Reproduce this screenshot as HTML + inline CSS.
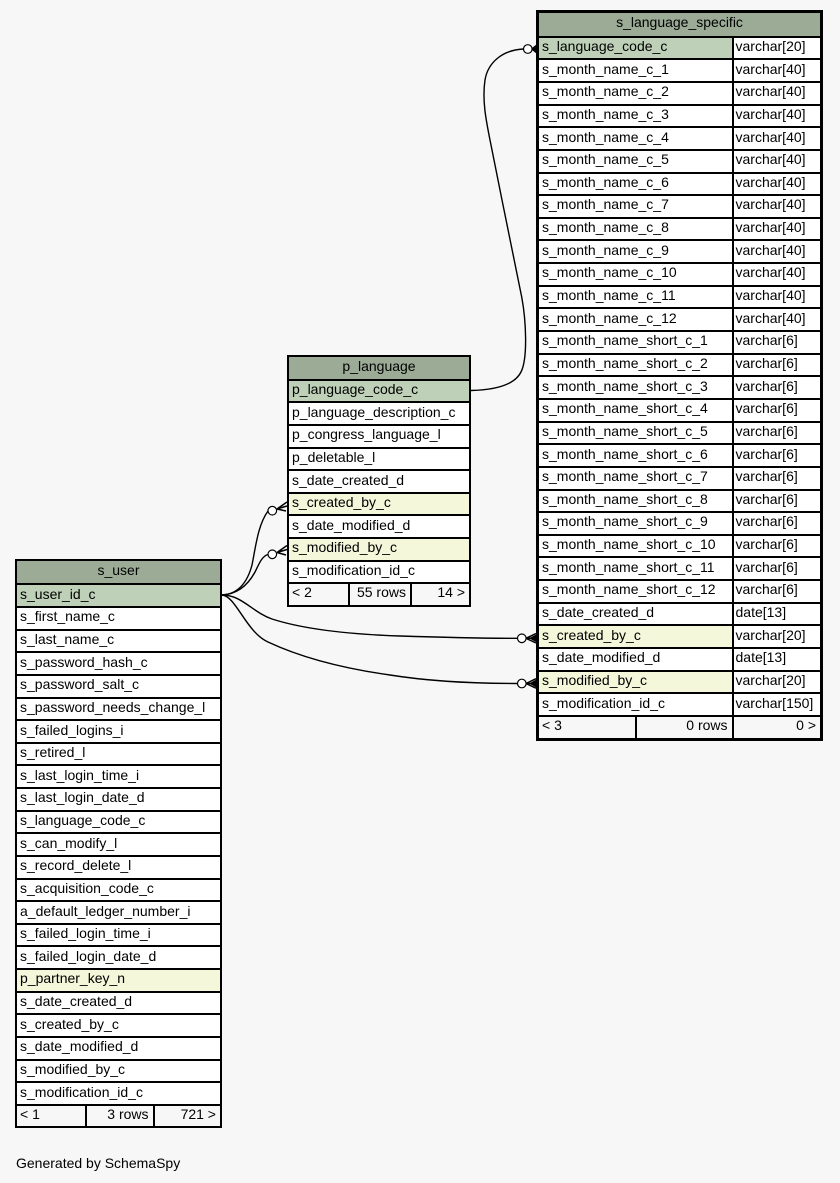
<!DOCTYPE html>
<html><head><meta charset="utf-8"><style>
html,body{margin:0;padding:0;}
body{width:840px;height:1183px;background:#f7f7f7;position:relative;overflow:hidden;font-family:"Liberation Sans",Arial,sans-serif;font-size:14px;color:#000;}
.t{position:absolute;border:1px solid #000;background:#fff;}
.r{display:flex;height:22.63px;}
.c{border:1px solid #000;box-sizing:border-box;height:100%;display:flex;align-items:center;white-space:nowrap;padding-left:3px;background:#fff;}
.c span{position:relative;top:-2px;}
.h{background:#9bab96;justify-content:center;padding-left:0;}
.k{background:#bed1b8;}
.f{background:#f4f7da;}
.tp{padding-left:2px;}
.ft{background:#f7f7f7;}
.rt{justify-content:flex-end;padding-left:0;padding-right:4px;}
svg{position:absolute;left:0;top:0;}
.gen{position:absolute;left:16px;top:1155px;font-size:14px;}
</style></head><body>

<!-- s_language_specific -->
<div class="t" style="left:536px;top:9.5px;border-width:2px;width:283px;">
<div class="r" style="height:25.2px"><div class="c h" style="width:283px"><span>s_language_specific</span></div></div>
<div class="r" style="height:22.65px"><div class="c k" style="width:194.5px"><span>s_language_code_c</span></div><div class="c tp" style="width:88.5px"><span>varchar[20]</span></div></div>
<div class="r" style="height:22.65px"><div class="c" style="width:194.5px"><span>s_month_name_c_1</span></div><div class="c tp" style="width:88.5px"><span>varchar[40]</span></div></div>
<div class="r" style="height:22.65px"><div class="c" style="width:194.5px"><span>s_month_name_c_2</span></div><div class="c tp" style="width:88.5px"><span>varchar[40]</span></div></div>
<div class="r" style="height:22.65px"><div class="c" style="width:194.5px"><span>s_month_name_c_3</span></div><div class="c tp" style="width:88.5px"><span>varchar[40]</span></div></div>
<div class="r" style="height:22.65px"><div class="c" style="width:194.5px"><span>s_month_name_c_4</span></div><div class="c tp" style="width:88.5px"><span>varchar[40]</span></div></div>
<div class="r" style="height:22.65px"><div class="c" style="width:194.5px"><span>s_month_name_c_5</span></div><div class="c tp" style="width:88.5px"><span>varchar[40]</span></div></div>
<div class="r" style="height:22.65px"><div class="c" style="width:194.5px"><span>s_month_name_c_6</span></div><div class="c tp" style="width:88.5px"><span>varchar[40]</span></div></div>
<div class="r" style="height:22.65px"><div class="c" style="width:194.5px"><span>s_month_name_c_7</span></div><div class="c tp" style="width:88.5px"><span>varchar[40]</span></div></div>
<div class="r" style="height:22.65px"><div class="c" style="width:194.5px"><span>s_month_name_c_8</span></div><div class="c tp" style="width:88.5px"><span>varchar[40]</span></div></div>
<div class="r" style="height:22.65px"><div class="c" style="width:194.5px"><span>s_month_name_c_9</span></div><div class="c tp" style="width:88.5px"><span>varchar[40]</span></div></div>
<div class="r" style="height:22.65px"><div class="c" style="width:194.5px"><span>s_month_name_c_10</span></div><div class="c tp" style="width:88.5px"><span>varchar[40]</span></div></div>
<div class="r" style="height:22.65px"><div class="c" style="width:194.5px"><span>s_month_name_c_11</span></div><div class="c tp" style="width:88.5px"><span>varchar[40]</span></div></div>
<div class="r" style="height:22.65px"><div class="c" style="width:194.5px"><span>s_month_name_c_12</span></div><div class="c tp" style="width:88.5px"><span>varchar[40]</span></div></div>
<div class="r" style="height:22.65px"><div class="c" style="width:194.5px"><span>s_month_name_short_c_1</span></div><div class="c tp" style="width:88.5px"><span>varchar[6]</span></div></div>
<div class="r" style="height:22.65px"><div class="c" style="width:194.5px"><span>s_month_name_short_c_2</span></div><div class="c tp" style="width:88.5px"><span>varchar[6]</span></div></div>
<div class="r" style="height:22.65px"><div class="c" style="width:194.5px"><span>s_month_name_short_c_3</span></div><div class="c tp" style="width:88.5px"><span>varchar[6]</span></div></div>
<div class="r" style="height:22.65px"><div class="c" style="width:194.5px"><span>s_month_name_short_c_4</span></div><div class="c tp" style="width:88.5px"><span>varchar[6]</span></div></div>
<div class="r" style="height:22.65px"><div class="c" style="width:194.5px"><span>s_month_name_short_c_5</span></div><div class="c tp" style="width:88.5px"><span>varchar[6]</span></div></div>
<div class="r" style="height:22.65px"><div class="c" style="width:194.5px"><span>s_month_name_short_c_6</span></div><div class="c tp" style="width:88.5px"><span>varchar[6]</span></div></div>
<div class="r" style="height:22.65px"><div class="c" style="width:194.5px"><span>s_month_name_short_c_7</span></div><div class="c tp" style="width:88.5px"><span>varchar[6]</span></div></div>
<div class="r" style="height:22.65px"><div class="c" style="width:194.5px"><span>s_month_name_short_c_8</span></div><div class="c tp" style="width:88.5px"><span>varchar[6]</span></div></div>
<div class="r" style="height:22.65px"><div class="c" style="width:194.5px"><span>s_month_name_short_c_9</span></div><div class="c tp" style="width:88.5px"><span>varchar[6]</span></div></div>
<div class="r" style="height:22.65px"><div class="c" style="width:194.5px"><span>s_month_name_short_c_10</span></div><div class="c tp" style="width:88.5px"><span>varchar[6]</span></div></div>
<div class="r" style="height:22.65px"><div class="c" style="width:194.5px"><span>s_month_name_short_c_11</span></div><div class="c tp" style="width:88.5px"><span>varchar[6]</span></div></div>
<div class="r" style="height:22.65px"><div class="c" style="width:194.5px"><span>s_month_name_short_c_12</span></div><div class="c tp" style="width:88.5px"><span>varchar[6]</span></div></div>
<div class="r" style="height:22.65px"><div class="c" style="width:194.5px"><span>s_date_created_d</span></div><div class="c tp" style="width:88.5px"><span>date[13]</span></div></div>
<div class="r" style="height:22.65px"><div class="c f" style="width:194.5px"><span>s_created_by_c</span></div><div class="c tp" style="width:88.5px"><span>varchar[20]</span></div></div>
<div class="r" style="height:22.65px"><div class="c" style="width:194.5px"><span>s_date_modified_d</span></div><div class="c tp" style="width:88.5px"><span>date[13]</span></div></div>
<div class="r" style="height:22.65px"><div class="c f" style="width:194.5px"><span>s_modified_by_c</span></div><div class="c tp" style="width:88.5px"><span>varchar[20]</span></div></div>
<div class="r" style="height:22.65px"><div class="c" style="width:194.5px"><span>s_modification_id_c</span></div><div class="c tp" style="width:88.5px"><span>varchar[150]</span></div></div>
<div class="r" style="height:22.65px"><div class="c ft" style="width:98px"><span>&lt; 3</span></div><div class="c ft rt" style="width:96.5px"><span>0 rows</span></div><div class="c ft rt" style="width:88.5px"><span>0 &gt;</span></div></div>
</div>

<!-- p_language -->
<div class="t" style="left:287px;top:355px;width:182px;">
<div class="r" style="height:23.85px"><div class="c h" style="width:182px"><span>p_language</span></div></div>
<div class="r" style="height:22.6px"><div class="c k" style="width:182px"><span>p_language_code_c</span></div></div>
<div class="r" style="height:22.6px"><div class="c" style="width:182px"><span>p_language_description_c</span></div></div>
<div class="r" style="height:22.6px"><div class="c" style="width:182px"><span>p_congress_language_l</span></div></div>
<div class="r" style="height:22.6px"><div class="c" style="width:182px"><span>p_deletable_l</span></div></div>
<div class="r" style="height:22.6px"><div class="c" style="width:182px"><span>s_date_created_d</span></div></div>
<div class="r" style="height:22.6px"><div class="c f" style="width:182px"><span>s_created_by_c</span></div></div>
<div class="r" style="height:22.6px"><div class="c" style="width:182px"><span>s_date_modified_d</span></div></div>
<div class="r" style="height:22.6px"><div class="c f" style="width:182px"><span>s_modified_by_c</span></div></div>
<div class="r" style="height:22.6px"><div class="c" style="width:182px"><span>s_modification_id_c</span></div></div>
<div class="r" style="height:22.6px"><div class="c ft" style="width:61px"><span>&lt; 2</span></div><div class="c ft rt" style="width:62px"><span>55 rows</span></div><div class="c ft rt" style="width:59px"><span>14 &gt;</span></div></div>
</div>

<!-- s_user -->
<div class="t" style="left:15px;top:559.3px;width:205px;">
<div class="r" style="height:24.2px"><div class="c h" style="width:205px"><span>s_user</span></div></div>
<div class="r"><div class="c k" style="width:205px"><span>s_user_id_c</span></div></div>
<div class="r"><div class="c" style="width:205px"><span>s_first_name_c</span></div></div>
<div class="r"><div class="c" style="width:205px"><span>s_last_name_c</span></div></div>
<div class="r"><div class="c" style="width:205px"><span>s_password_hash_c</span></div></div>
<div class="r"><div class="c" style="width:205px"><span>s_password_salt_c</span></div></div>
<div class="r"><div class="c" style="width:205px"><span>s_password_needs_change_l</span></div></div>
<div class="r"><div class="c" style="width:205px"><span>s_failed_logins_i</span></div></div>
<div class="r"><div class="c" style="width:205px"><span>s_retired_l</span></div></div>
<div class="r"><div class="c" style="width:205px"><span>s_last_login_time_i</span></div></div>
<div class="r"><div class="c" style="width:205px"><span>s_last_login_date_d</span></div></div>
<div class="r"><div class="c" style="width:205px"><span>s_language_code_c</span></div></div>
<div class="r"><div class="c" style="width:205px"><span>s_can_modify_l</span></div></div>
<div class="r"><div class="c" style="width:205px"><span>s_record_delete_l</span></div></div>
<div class="r"><div class="c" style="width:205px"><span>s_acquisition_code_c</span></div></div>
<div class="r"><div class="c" style="width:205px"><span>a_default_ledger_number_i</span></div></div>
<div class="r"><div class="c" style="width:205px"><span>s_failed_login_time_i</span></div></div>
<div class="r"><div class="c" style="width:205px"><span>s_failed_login_date_d</span></div></div>
<div class="r"><div class="c f" style="width:205px"><span>p_partner_key_n</span></div></div>
<div class="r"><div class="c" style="width:205px"><span>s_date_created_d</span></div></div>
<div class="r"><div class="c" style="width:205px"><span>s_created_by_c</span></div></div>
<div class="r"><div class="c" style="width:205px"><span>s_date_modified_d</span></div></div>
<div class="r"><div class="c" style="width:205px"><span>s_modified_by_c</span></div></div>
<div class="r"><div class="c" style="width:205px"><span>s_modification_id_c</span></div></div>
<div class="r"><div class="c ft" style="width:69.5px"><span>&lt; 1</span></div><div class="c ft rt" style="width:68px"><span>3 rows</span></div><div class="c ft rt" style="width:67.5px"><span>721 &gt;</span></div></div>
</div>

<svg width="840" height="1183" viewBox="0 0 840 1183" xmlns="http://www.w3.org/2000/svg">
<g fill="none" stroke="#000" stroke-width="1.4">
<path d="M471,390.5 C492,390 514,386 521,372 C528,358 526,320 521.7,297 C516,270 500,190 490,140 C486,120 482,100 485,80 C488,62 503,50 523.4,49"/>
<path d="M222,595 C240,594 248,580 252,565 C256,545 258,525 268,511"/>
<path d="M222,595 C238,594 248,585 255,572 C259,564 262,556 268,554.5"/>
<path d="M222,595 C242,595 252,612 272,619 C300,628 340,634 400,636 C460,638 500,638.3 517.4,638.3"/>
<path d="M222,595 C236,596 246,632 268,642 C300,657 340,668 390,675 C440,683 490,683.5 517.4,683.5"/>
</g>
<g fill="#fff" stroke="#000" stroke-width="1.2">
<circle cx="527.8" cy="49" r="4.3"/>
<circle cx="272.3" cy="510.7" r="4.3"/>
<circle cx="272.3" cy="554.3" r="4.3"/>
<circle cx="521.8" cy="638.3" r="4.3"/>
<circle cx="521.8" cy="683.5" r="4.3"/>
</g>
<g fill="none" stroke="#000" stroke-width="1.5">
<path d="M532,49 L537,45 M532,49 L537,49 M532,49 L537,53"/>
<path d="M277,509 L287,502 M277,509 L287,506 M277,509 L286,511"/>
<path d="M277,552.5 L287,545.5 M277,552.5 L287,549.5 M277,552.5 L286,555"/>
<path d="M526,638.3 L536,633.5 M526,638.3 L536,638.3 M526,638.3 L536,643"/>
<path d="M526,683.5 L536,678.7 M526,683.5 L536,683.5 M526,683.5 L536,688.2"/>
</g>
<g fill="#000">
<polygon points="529,638.3 536,634.5 536,642"/>
<polygon points="529,683.5 536,679.7 536,687.3"/>
<polygon points="533,49 537,46 537,52"/>
</g>
</svg>

<div class="gen">Generated by SchemaSpy</div>
</body></html>
